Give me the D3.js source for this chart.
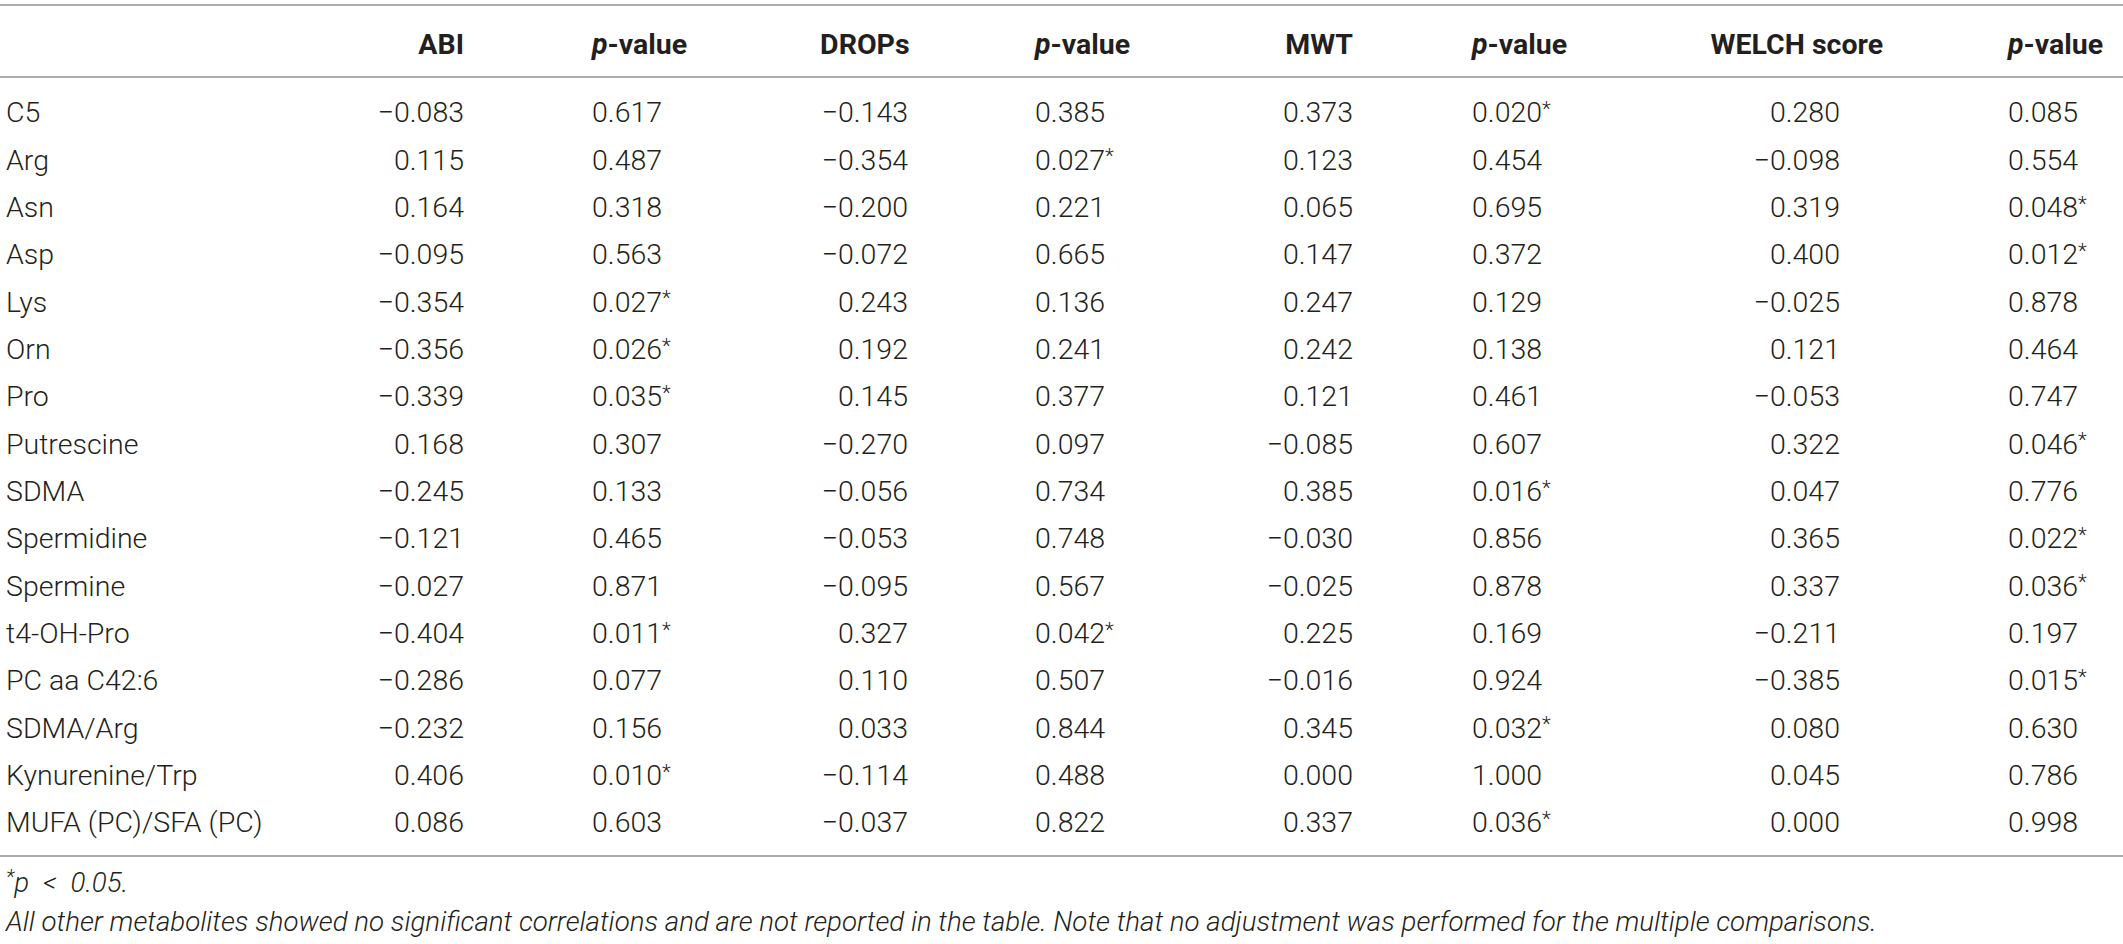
<!DOCTYPE html>
<html>
<head>
<meta charset="utf-8">
<script src="https://cdn.jsdelivr.net/npm/d3@7"></script>
<style>
  html, body { margin: 0; padding: 0; background: #fff; }
  svg { display: block; }
  text { font-family: Roboto, "Liberation Sans", sans-serif; fill: #231f20; }
</style>
</head>
<body>
<svg id="chart" width="2123" height="944"></svg>
<script>
// ---- data ----
const metabolites = ["C5", "Arg", "Asn", "Asp", "Lys", "Orn", "Pro", "Putrescine", "SDMA",
  "Spermidine", "Spermine", "t4-OH-Pro", "PC aa C42:6", "SDMA/Arg", "Kynurenine/Trp", "MUFA (PC)/SFA (PC)"];
const abi    = [-0.083, 0.115, 0.164, -0.095, -0.354, -0.356, -0.339, 0.168, -0.245, -0.121, -0.027, -0.404, -0.286, -0.232, 0.406, 0.086];
const abiP   = [0.617, 0.487, 0.318, 0.563, 0.027, 0.026, 0.035, 0.307, 0.133, 0.465, 0.871, 0.011, 0.077, 0.156, 0.010, 0.603];
const drops  = [-0.143, -0.354, -0.200, -0.072, 0.243, 0.192, 0.145, -0.270, -0.056, -0.053, -0.095, 0.327, 0.110, 0.033, -0.114, -0.037];
const dropsP = [0.385, 0.027, 0.221, 0.665, 0.136, 0.241, 0.377, 0.097, 0.734, 0.748, 0.567, 0.042, 0.507, 0.844, 0.488, 0.822];
const mwt    = [0.373, 0.123, 0.065, 0.147, 0.247, 0.242, 0.121, -0.085, 0.385, -0.030, -0.025, 0.225, -0.016, 0.345, 0.000, 0.337];
const mwtP   = [0.020, 0.454, 0.695, 0.372, 0.129, 0.138, 0.461, 0.607, 0.016, 0.856, 0.878, 0.169, 0.924, 0.032, 1.000, 0.036];
const welch  = [0.280, -0.098, 0.319, 0.400, -0.025, 0.121, -0.053, 0.322, 0.047, 0.365, 0.337, -0.211, -0.385, 0.080, 0.045, 0.000];
const welchP = [0.085, 0.554, 0.048, 0.012, 0.878, 0.464, 0.747, 0.046, 0.776, 0.022, 0.036, 0.197, 0.015, 0.630, 0.786, 0.998];
const headers = ["ABI", "p-value", "DROPs", "p-value", "MWT", "p-value", "WELCH score", "p-value"];
const footnoteSig = "p < 0.05.";
const footnoteText = "All other metabolites showed no significant correlations and are not reported in the table. Note that no adjustment was performed for the multiple comparisons.";

// ---- layout ----
const W = 2123, H = 944;
const FS = 28.5;
const FS_NOTE = 27.7;
const svg = d3.select("#chart");
const fmt = d3.format(".3f");

// x anchor: right edge for coefficient columns, left edge for p-value columns
const columns = [
  { name: headers[0], vals: abi,    type: "coef", x: 464 },
  { name: headers[1], vals: abiP,   type: "p",    x: 592 },
  { name: headers[2], vals: drops,  type: "coef", x: 908 },
  { name: headers[3], vals: dropsP, type: "p",    x: 1035 },
  { name: headers[4], vals: mwt,    type: "coef", x: 1353 },
  { name: headers[5], vals: mwtP,   type: "p",    x: 1472 },
  { name: headers[6], vals: welch,  type: "coef", x: 1840 },
  { name: headers[7], vals: welchP, type: "p",    x: 2008 }
];

const y = d3.scaleLinear().domain([0, metabolites.length - 1]).range([112, 822]);
const headerY = 44;
const rules = [5, 77, 856];

svg.selectAll("line.rule").data(rules).join("line")
  .attr("class", "rule")
  .attr("x1", 0).attr("x2", W)
  .attr("y1", d => d).attr("y2", d => d)
  .attr("stroke", "#ababab").attr("stroke-width", 2);

const measure = svg.append("text").attr("font-size", FS).attr("font-weight", 300).attr("visibility", "hidden");
const coefW = measure.text(fmt(-0.888)).node().getComputedTextLength();
measure.remove();

// headers
columns.forEach(col => {
  const t = svg.append("text")
    .attr("y", headerY).attr("dy", "0.36em")
    .attr("font-size", FS).attr("font-weight", 700);
  if (col.type === "p") {
    t.attr("x", col.x).attr("text-anchor", "start");
    t.append("tspan").attr("font-style", "italic").text("p");
    t.append("tspan").text("-value");
  } else {
    t.attr("text-anchor", "end").text(col.name);
    const hw = t.node().getComputedTextLength();
    t.attr("x", Math.max(col.x, col.x - coefW / 2 + hw / 2));
  }
});

// labels
svg.selectAll("text.label").data(metabolites).join("text")
  .attr("class", "label")
  .attr("x", 6).attr("y", (d, i) => y(i)).attr("dy", "0.36em")
  .attr("font-size", FS).attr("font-weight", 300)
  .text(d => d);

// values
columns.forEach(col => {
  const g = svg.append("g");
  const sel = g.selectAll("text").data(col.vals).join("text")
    .attr("y", (d, i) => y(i)).attr("dy", "0.36em")
    .attr("font-size", FS).attr("font-weight", 300);
  if (col.type === "coef") {
    sel.attr("x", col.x).attr("text-anchor", "end").text(d => fmt(d));
  } else {
    sel.attr("x", col.x).attr("text-anchor", "start")
      .each(function(d) {
        const t = d3.select(this);
        t.append("tspan").text(fmt(d));
        if (d < 0.05) t.append("tspan").attr("dy", "-0.3em").attr("font-size", FS * 0.72).text("*");
      });
  }
});

// footnotes
const f1 = svg.append("text").attr("x", 6).attr("y", 890).attr("dy", "0.36em")
  .attr("font-size", FS_NOTE).attr("font-weight", 300).attr("font-style", "italic");
f1.append("tspan").attr("font-size", FS_NOTE * 0.72).attr("dy", "-0.3em").text("*");
f1.append("tspan").attr("dy", "0.3em").text(footnoteSig.replace(" < ", "\u2002<\u2002"));
svg.append("text").attr("x", 6).attr("y", 921).attr("dy", "0.36em")
  .attr("font-size", FS_NOTE).attr("font-weight", 300).attr("font-style", "italic")
  .text(footnoteText);
</script>
</body>
</html>
